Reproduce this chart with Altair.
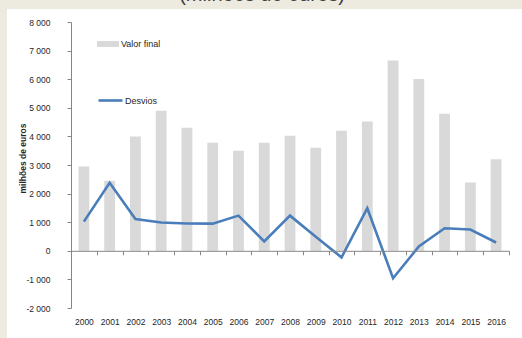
import altair as alt
import pandas as pd

anos = ["2000", "2001", "2002", "2003", "2004", "2005", "2006", "2007", "2008",
        "2009", "2010", "2011", "2012", "2013", "2014", "2015", "2016"]
valor_final = [2950, 2450, 4000, 4900, 4300, 3780, 3500, 3780, 4020,
               3600, 4200, 4520, 6650, 6010, 4790, 2390, 3200]
desvios = [1020, 2380, 1110, 990, 955, 950, 1230, 330, 1230,
           490, -230, 1490, -960, 150, 790, 745, 290]

df = pd.DataFrame({"ano": anos, "valor": valor_final, "desvio": desvios})

W, H = 438, 286
FONT = "Liberation Sans"
TXT = "#262626"
AX = "#868686"

x_enc = alt.X(
    "ano:N", sort=None,
    scale=alt.Scale(type="band", paddingInner=0, paddingOuter=0),
    axis=alt.Axis(title=None, offset=-H * 0.2, tickBand="extent", labelAngle=0,
                  domainColor=AX, tickColor=AX, tickSize=4, labelPadding=63,
                  labelFont=FONT, labelFontSize=8.5, labelColor=TXT, zindex=1),
)

y_axis = alt.Axis(
    values=list(range(-2000, 8001, 1000)),
    labelExpr="replace(replace(format(datum.value, ','), ',', ' '), '\u2212', '-')",
    title="milhões de euros", titleFont=FONT, titleFontSize=8.5, titleFontWeight="bold",
    titleColor=TXT, titleX=-49, titleY=136, titleBaseline="middle",
    labelFont=FONT, labelFontSize=8.5, labelColor=TXT, labelPadding=17,
    tickSize=4, tickColor=AX, domainColor=AX, grid=False, zindex=1,
)
y_scale = alt.Scale(domain=[-2000, 8000], nice=False, zero=False)

bg = alt.Chart(pd.DataFrame({"k": [0]})).mark_rect(color="white").encode(
    x=alt.value(-64), x2=alt.value(451), y=alt.value(-13), y2=alt.value(316)
)

bars = alt.Chart(df).transform_calculate(s1="'Valor final'").mark_bar(
    width=alt.RelativeBandSize(0.42)
).encode(
    x=x_enc,
    y=alt.Y("valor:Q", scale=y_scale, axis=y_axis),
    color=alt.Color(
        "s1:N",
        scale=alt.Scale(domain=["Valor final"], range=["#D9D9D9"]),
        legend=alt.Legend(title=None, orient="none", legendX=26, legendY=11,
                          symbolType="M-1,-0.27H1V0.27H-1Z", symbolSize=484,
                          symbolStrokeWidth=0, labelOffset=2, padding=0,
                          labelFont=FONT, labelFontSize=9, labelColor=TXT),
    ),
)

line = alt.Chart(df).transform_calculate(s2="'Desvios'").mark_line(strokeWidth=2.6).encode(
    x=x_enc,
    y=alt.Y("desvio:Q", scale=y_scale, axis=y_axis),
    stroke=alt.Stroke(
        "s2:N",
        scale=alt.Scale(domain=["Desvios"], range=["#4A7EBB"]),
        legend=alt.Legend(title=None, orient="none", legendX=26, legendY=65,
                          symbolType="stroke", symbolSize=576, symbolStrokeWidth=2.6,
                          labelOffset=1, padding=0,
                          labelFont=FONT, labelFontSize=9, labelColor=TXT),
    ),
)

chart = alt.layer(bg, bars, line).properties(
    width=W, height=H,
    background="#EDEBE0",
    padding={"left": 71, "top": 22, "right": 13, "bottom": 30},
    autosize=alt.AutoSizeParams(type="none"),
    title=alt.TitleParams("(milhões de euros)", font=FONT, fontSize=20, fontWeight="normal",
                          color="#404040", anchor="middle", dx=-28, dy=16, offset=4,
                          baseline="alphabetic"),
).configure_view(stroke=None)

chart.save("out.html", embed_options={"renderer": "svg", "actions": False})
